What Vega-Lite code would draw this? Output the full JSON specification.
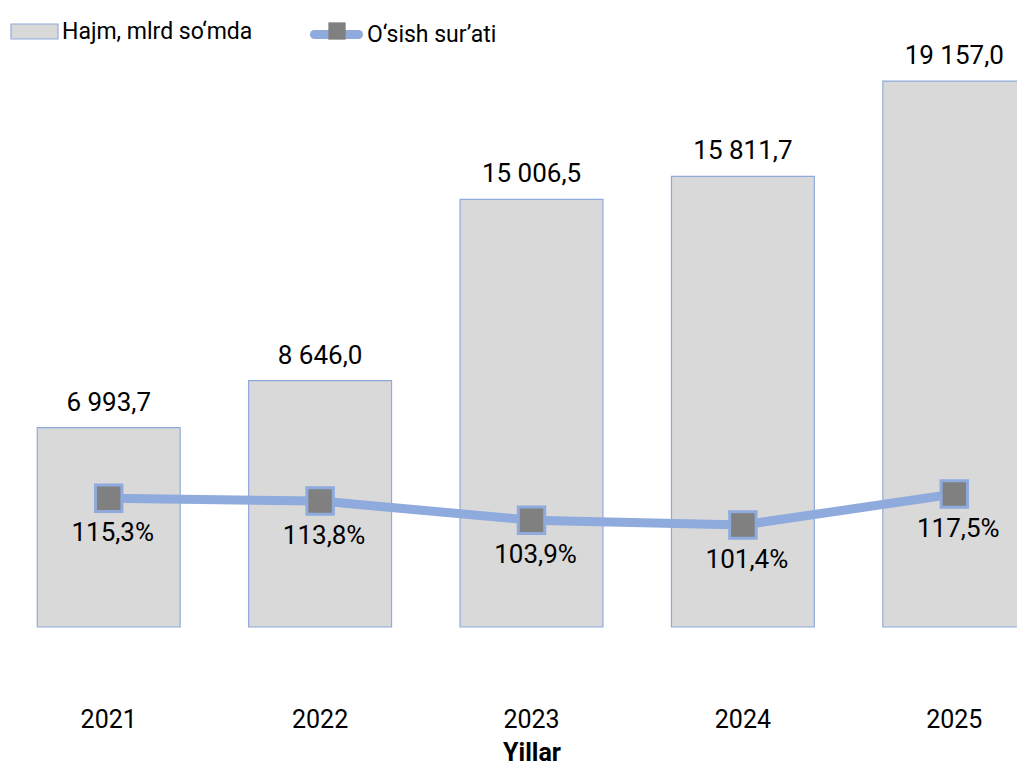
{
  "$schema": "https://vega.github.io/schema/vega-lite/v6.json",
  "autosize": "none",
  "width": 1057,
  "height": 627,
  "padding": {"left": 3, "top": 0, "right": -43, "bottom": 153},
  "background": "white",
  "config": {
    "view": {"stroke": null},
    "locale": {"number": {"decimal": ",", "thousands": " ", "grouping": [3], "currency": ["", ""]}},
    "font": "Roboto",
    "legend": {"padding": 0, "titleFontSize": 0}
  },
  "data": {
    "values": [
      {"year": "2021", "volume": 6993.7, "rate": 1.153},
      {"year": "2022", "volume": 8646.0, "rate": 1.138},
      {"year": "2023", "volume": 15006.5, "rate": 1.039},
      {"year": "2024", "volume": 15811.7, "rate": 1.014},
      {"year": "2025", "volume": 19157.0, "rate": 1.175}
    ]
  },
  "encoding": {
    "x": {
      "field": "year", "type": "ordinal",
      "scale": {"paddingInner": 0.324, "paddingOuter": 0.162},
      "axis": {
        "title": "Yillar", "titleFont": "Roboto", "titleFontSize": 25, "titleFontWeight": "bold", "titleColor": "#000",
        "titlePadding": 8,
        "labelAngle": 0, "labelFont": "Roboto", "labelFontSize": 25, "labelColor": "#000",
        "labelPadding": 80, "ticks": false, "domain": false, "grid": false
      }
    }
  },
  "layer": [
    {
      "encoding": {
        "y": {"field": "volume", "type": "quantitative", "scale": {"domain": [0, 22000], "nice": false}, "axis": null}
      },
      "layer": [
        {
          "mark": {"type": "bar", "stroke": "#8FAADC", "strokeWidth": 1.2},
          "encoding": {
            "fill": {
              "datum": "Hajm, mlrd so‘mda",
              "scale": {"range": ["#D9D9D9"]},
              "legend": {
                "title": null, "orient": "none", "legendX": 7, "legendY": 7,
                "symbolType": "M-1,-0.32H1V0.32H-1Z", "symbolSize": 2209,
                "symbolStrokeColor": "#8FAADC", "symbolStrokeWidth": 1.2, "symbolFillColor": "#D9D9D9",
                "labelFont": "Roboto", "labelFontSize": 23, "labelColor": "#000", "labelOffset": 3, "labelLimit": 500
              }
            }
          }
        },
        {
          "mark": {"type": "text", "baseline": "alphabetic", "dy": -17, "fontSize": 26, "color": "#000"},
          "encoding": {
            "text": {"field": "volume", "type": "quantitative", "format": ",.1f"}
          }
        }
      ]
    },
    {
      "encoding": {
        "y": {"field": "rate", "type": "quantitative", "scale": {"domain": [0.484, 3.741], "nice": false, "zero": false}, "axis": null}
      },
      "layer": [
        {
          "mark": {"type": "line", "strokeWidth": 9, "strokeCap": "round", "strokeJoin": "round"},
          "encoding": {
            "stroke": {
              "datum": "O‘sish sur’ati",
              "scale": {"range": ["#8FAADC"]},
              "legend": {
                "title": null, "orient": "none", "legendX": 307, "legendY": 8,
                "symbolType": "stroke", "symbolSize": 1936, "symbolStrokeWidth": 9, "symbolStrokeColor": "#8FAADC",
                "labelFont": "Roboto", "labelFontSize": 23, "labelColor": "#000", "labelOffset": 4, "labelLimit": 500,
                "encode": {"symbols": {"update": {"strokeCap": {"value": "round"}}}}
              }
            }
          }
        },
        {
          "mark": {"type": "point", "filled": true, "fill": "#808080", "stroke": "#8FAADC", "strokeWidth": 3, "opacity": 1, "size": 700},
          "encoding": {
            "shape": {
              "datum": "marker",
              "scale": {"range": ["square"]},
              "legend": {
                "title": null, "orient": "none", "legendX": 324, "legendY": 21,
                "symbolSize": 300, "symbolFillColor": "#808080", "symbolStrokeColor": "#8FAADC", "symbolStrokeWidth": 2.5,
                "labelExpr": "''", "labelFontSize": 1
              }
            }
          }
        },
        {
          "mark": {"type": "text", "baseline": "alphabetic", "dy": 43, "dx": 4, "fontSize": 26, "color": "#000"},
          "encoding": {
            "text": {"field": "rate", "type": "quantitative", "format": ".1%"}
          }
        }
      ]
    }
  ],
  "resolve": {"scale": {"y": "independent"}}
}
